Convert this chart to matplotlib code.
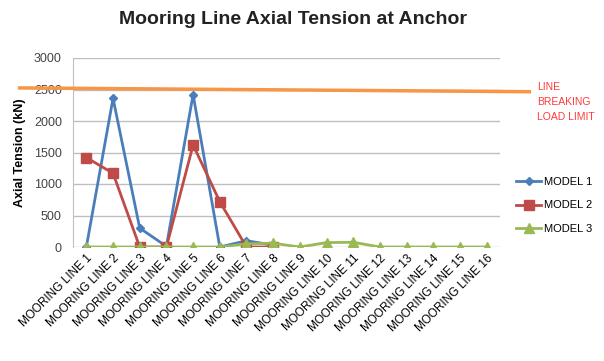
import numpy as np
import matplotlib.pyplot as plt

lines = ['MOORING LINE %d' % i for i in range(1, 17)]
model1 = [0, 2360, 300, 10, 2420, 0, 100, 30]
model2 = [1420, 1170, 0, 0, 1620, 720, 0, 0]
model3 = [0, 0, 0, 0, 0, 0, 50, 60, 0, 70, 75, 0, 0, 0, 0, 0]
limit = [2525, 2465]

plt.rcParams['font.family'] = ['Liberation Sans', 'DejaVu Sans']

fig = plt.figure(figsize=(6.04, 3.61), dpi=100)
ax = fig.add_axes([73/604, 1-247/361, 427/604, 189/361])

x = np.arange(len(lines))
ax.plot(x[:len(model1)], model1, color='#4a7ebb', lw=2, marker='D', ms=4, label='MODEL 1')
ax.plot(x[:len(model2)], model2, color='#be4b48', lw=2, marker='s', ms=7, label='MODEL 2')
ax.plot(x, model3, color='#98b954', lw=2, marker='^', ms=7, label='MODEL 3')

# breaking load line, drawn across and beyond the plot area
ax.plot([-2.5, 16.6], limit, color='#f79646', lw=2.5, clip_on=False, zorder=5)
ax.text(16.9, 2620, 'LINE\nBREAKING\nLOAD LIMIT', color='#ff3b3b', fontsize=7.5,
        va='top', ha='left', linespacing=1.6)

ax.set_xlim(-0.5, 15.5)
ax.set_ylim(0, 3000)
ax.set_yticks(range(0, 3001, 500))
ax.set_xticks(x)
ax.set_xticklabels(lines, rotation=45, ha='right', rotation_mode='anchor', fontsize=8.5)
ax.tick_params(axis='y', labelsize=9, labelcolor='#444444', length=0, pad=8)
ax.tick_params(axis='x', length=0, pad=4)
ax.grid(axis='y', color='#bfbfbf', lw=1)
ax.set_axisbelow(True)
for s in ['top', 'right', 'bottom']:
    ax.spines[s].set_visible(False)
ax.spines['left'].set_color('#bfbfbf')
ax.set_ylabel('Axial Tension (kN)', fontsize=9, fontweight='bold', labelpad=6)

ax.legend(loc='center left', bbox_to_anchor=(1.02, 0.22), frameon=False,
          fontsize=8, handlelength=2.2, handletextpad=0.3, labelspacing=1.2,
          borderpad=0.2)

fig.text(0.485, 0.945, 'Mooring Line Axial Tension at Anchor', ha='center', va='center',
         fontsize=14, fontweight='bold', color='#222222')

fig.savefig('out.png')
